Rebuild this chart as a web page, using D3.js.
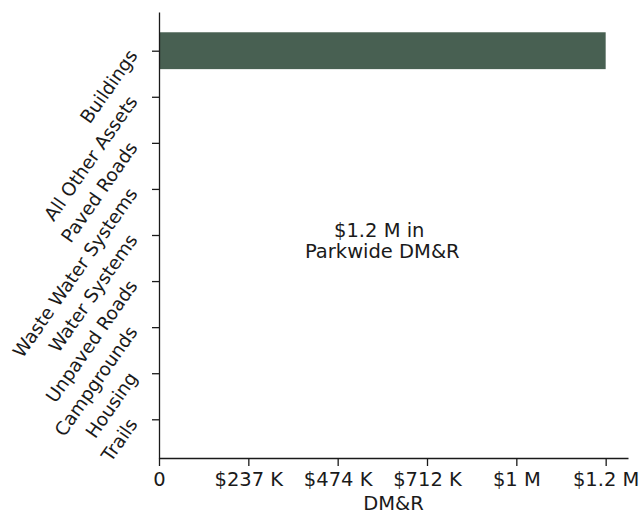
<!DOCTYPE html>
<html><head><meta charset="utf-8">
<script src="https://cdn.jsdelivr.net/npm/d3@7"></script>
<style>body{margin:0;background:#fff}text{font-family:"DejaVu Sans",sans-serif;fill:#1a1a1a}</style>
</head><body>
<svg id="c" width="639" height="514"></svg>
<script>
const categories = ["Buildings","All Other Assets","Paved Roads","Waste Water Systems","Water Systems","Unpaved Roads","Campgrounds","Housing","Trails"];
const values = [1186500, 0, 0, 0, 0, 0, 0, 0, 0];
const tickValues = [0, 237300, 474600, 711900, 949200, 1186500];
const tickLabels = ["0", "$237 K", "$474 K", "$712 K", "$1 M", "$1.2 M"];
const annotation = ["$1.2 M in ", "Parkwide DM&R"];
const xLabel = "DM&R";

const svg = d3.select("#c");
const L = 159, R = 628, T = 12, B = 458;
const vmax = d3.max(values);
const x = d3.scaleLinear().domain([0, vmax * 1.05]).range([L, R]);
const n = categories.length;
const y = d3.scaleLinear().domain([-0.84, n - 1 + 0.84]).range([T, B]);
const fs = 19.5, fsY = 18.5;

svg.selectAll("rect.bar").data(values).join("rect")
  .attr("x", x(0)).attr("y", (d, i) => y(i - 0.4))
  .attr("width", d => x(d) - x(0)).attr("height", y(0.4) - y(-0.4))
  .attr("fill", "#486052");

// x axis
const xa = d3.axisBottom(x).tickValues(tickValues).tickFormat((d, i) => tickLabels[i]).tickSize(8).tickPadding(6).tickSizeOuter(0);
const gx = svg.append("g").attr("transform", `translate(0,${B})`).call(xa);
gx.select(".domain").attr("stroke", "#1a1a1a").attr("stroke-width", 1.3);
gx.selectAll(".tick line").attr("stroke", "#1a1a1a").attr("stroke-width", 1.3);
gx.selectAll(".tick text").attr("font-size", fs).attr("font-family", "DejaVu Sans").attr("fill", "#1a1a1a");

// y axis
const ya = d3.axisLeft(y).tickValues(d3.range(n)).tickFormat(() => "").tickSize(7).tickSizeOuter(0);
const gy = svg.append("g").attr("transform", `translate(${L},0)`).call(ya);
gy.select(".domain").attr("stroke", "#1a1a1a").attr("stroke-width", 1.3);
gy.selectAll(".tick line").attr("stroke", "#1a1a1a").attr("stroke-width", 1.3);

svg.selectAll("text.ylab").data(categories).join("text").attr("class", "ylab")
  .attr("transform", (d, i) => `translate(133,${y(i) + 1}) rotate(-55)`)
  .attr("text-anchor", "end").attr("dominant-baseline", "central")
  .attr("font-size", fsY).text(d => d);

svg.append("text").attr("x", (L + R) / 2).attr("y", 510).attr("text-anchor", "middle")
  .attr("font-size", fs).text(xLabel);

const ann = svg.append("text").attr("font-size", fs).attr("text-anchor", "middle").style("white-space", "pre");
annotation.forEach((t, i) => ann.append("tspan").attr("x", x(vmax / 2)).attr("y", 236.5 + i * 21.5).text(t));
</script>
</body></html>
